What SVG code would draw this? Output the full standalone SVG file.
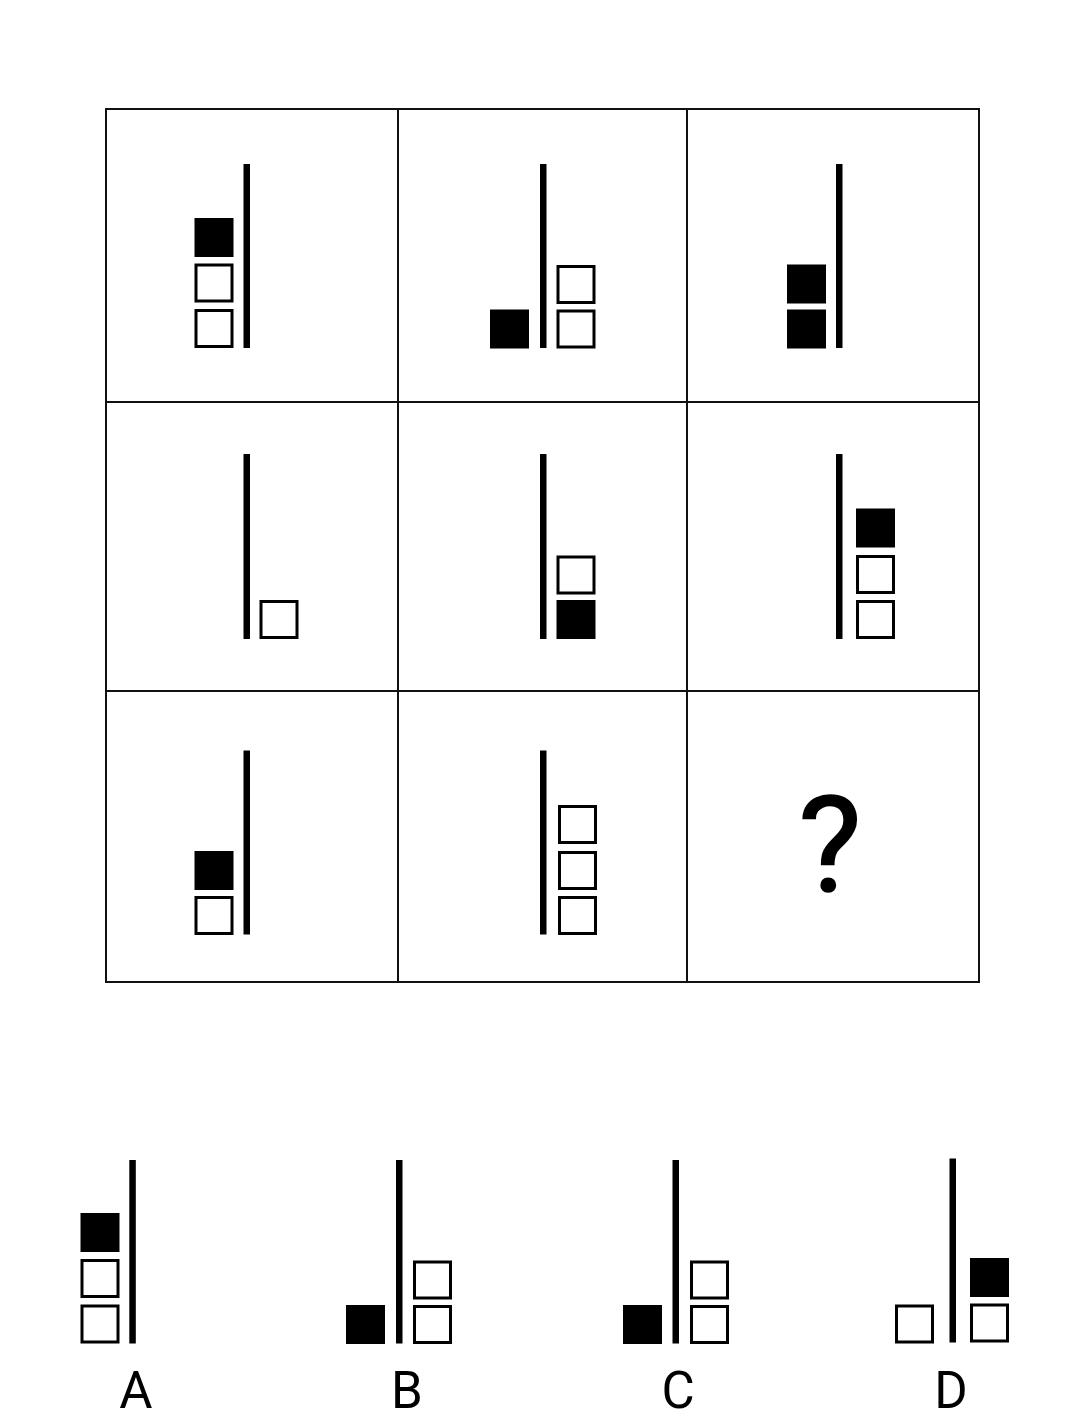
<svg xmlns="http://www.w3.org/2000/svg" width="1086" height="1428" viewBox="0 0 1086 1428">
<style>
.grid{fill:none;stroke:#111;stroke-width:2}
.bar{fill:#000}
.h{fill:#fff;stroke:#000;stroke-width:3}
.f{fill:#000;stroke:#000;stroke-width:3}
.lbl{font-family:Roboto,"Liberation Sans",sans-serif;fill:#000;text-anchor:middle}
</style>
<defs>
<rect id="sq" width="36" height="36"/>
</defs>
<rect width="1086" height="1428" fill="#fff"/>
<g id="grid">
<rect class="grid" x="106" y="109" width="873" height="873"/>
<line class="grid" x1="398" y1="109" x2="398" y2="982"/>
<line class="grid" x1="687" y1="109" x2="687" y2="982"/>
<line class="grid" x1="106" y1="402" x2="979" y2="402"/>
<line class="grid" x1="106" y1="691" x2="979" y2="691"/>
</g>
<g id="cell1">
<rect class="bar" x="243.5" y="164" width="6.5" height="184"/>
<use href="#sq" class="f" x="196" y="219.5"/>
<use href="#sq" class="h" x="196" y="265"/>
<use href="#sq" class="h" x="196" y="310.5"/>
</g>
<g id="cell2">
<rect class="bar" x="540" y="164" width="6.5" height="184"/>
<use href="#sq" class="f" x="491.5" y="311"/>
<use href="#sq" class="h" x="558" y="266.5"/>
<use href="#sq" class="h" x="558" y="311"/>
</g>
<g id="cell3">
<rect class="bar" x="836" y="164" width="6.5" height="184"/>
<use href="#sq" class="f" x="788.5" y="266"/>
<use href="#sq" class="f" x="788.5" y="311"/>
</g>
<g id="cell4">
<rect class="bar" x="243.5" y="454" width="6.5" height="185"/>
<use href="#sq" class="h" x="261" y="601.5"/>
</g>
<g id="cell5">
<rect class="bar" x="540" y="454" width="6.5" height="185"/>
<use href="#sq" class="h" x="558" y="557"/>
<use href="#sq" class="f" x="558" y="601.5"/>
</g>
<g id="cell6">
<rect class="bar" x="836" y="454" width="6.5" height="185"/>
<use href="#sq" class="f" x="857.5" y="510"/>
<use href="#sq" class="h" x="857.5" y="556.5"/>
<use href="#sq" class="h" x="857.5" y="601.5"/>
</g>
<g id="cell7">
<rect class="bar" x="243.5" y="750.5" width="6.5" height="184"/>
<use href="#sq" class="f" x="196" y="852.5"/>
<use href="#sq" class="h" x="196" y="897.5"/>
</g>
<g id="cell8">
<rect class="bar" x="540" y="750.5" width="6.5" height="184"/>
<use href="#sq" class="h" x="559.5" y="806.5"/>
<use href="#sq" class="h" x="559.5" y="852.5"/>
<use href="#sq" class="h" x="559.5" y="897.5"/>
</g>
<g id="cell9">
<text class="lbl" x="830" y="891" font-size="134" stroke="#000" stroke-width="1.5">?</text>
</g>
<g id="optA">
<rect class="bar" x="129.3" y="1160" width="6.5" height="183.5"/>
<use href="#sq" class="f" x="82" y="1214.5"/>
<use href="#sq" class="h" x="82" y="1260.5"/>
<use href="#sq" class="h" x="82" y="1306"/>
<text class="lbl" x="136" y="1408" font-size="51">A</text>
</g>
<g id="optB">
<rect class="bar" x="396" y="1160" width="6.5" height="183.5"/>
<use href="#sq" class="f" x="347.5" y="1306.5"/>
<use href="#sq" class="h" x="414.5" y="1262"/>
<use href="#sq" class="h" x="414.5" y="1306.5"/>
<text class="lbl" x="407" y="1408" font-size="51">B</text>
</g>
<g id="optC">
<rect class="bar" x="672.5" y="1160" width="6.5" height="183.5"/>
<use href="#sq" class="f" x="624.5" y="1306.5"/>
<use href="#sq" class="h" x="691.5" y="1262"/>
<use href="#sq" class="h" x="691.5" y="1306.5"/>
<text class="lbl" x="678" y="1408" font-size="51">C</text>
</g>
<g id="optD">
<rect class="bar" x="949.5" y="1158.5" width="6.5" height="184"/>
<use href="#sq" class="h" x="896.5" y="1306"/>
<use href="#sq" class="f" x="971.5" y="1259.5"/>
<use href="#sq" class="h" x="971.5" y="1305"/>
<text class="lbl" x="951" y="1408" font-size="51">D</text>
</g>
</svg>
